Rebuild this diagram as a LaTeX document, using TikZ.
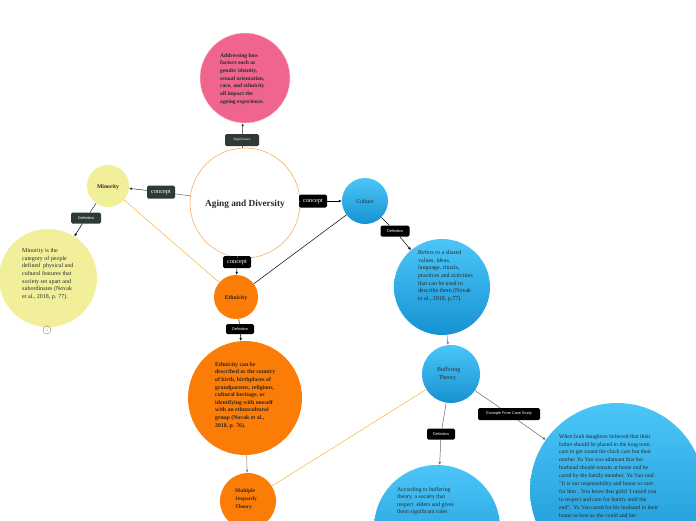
\documentclass[tikz,border=0pt]{standalone}
\usepackage{fontspec}
\setmainfont{Liberation Serif}
\newfontfamily\lblfont{Liberation Sans}
\usetikzlibrary{arrows.meta}
\definecolor{pinkc}{HTML}{EF6590}
\definecolor{yel}{HTML}{F2EF9A}
\definecolor{orng}{HTML}{FB7C07}
\definecolor{blueT}{HTML}{4CC6F8}
\definecolor{blueB}{HTML}{1692D2}
\definecolor{dkgray}{HTML}{2F3A34}
\definecolor{ring}{HTML}{F7A14C}
\definecolor{yline}{HTML}{F7B731}
\definecolor{txt}{HTML}{2A2A2A}
\tikzset{
  bub/.style={circle, inner sep=0pt, minimum size=#1},
  pinkbub/.style={bub=#1, fill=pinkc, draw=orange!30, line width=0.4pt},
  yelbub/.style={bub=#1, fill=yel},
  orbub/.style={bub=#1, fill=orng},
  bluebub/.style={bub=#1, top color=blueT, bottom color=blueB},
  lblbox/.style={rounded corners=1.5pt, fill=black, text=white, inner sep=0pt, minimum height=11pt},
  graybox/.style={lblbox, fill=dkgray},
  para/.style={align=left, inner sep=0pt, text=txt, font=\fontsize{6}{7.7}\selectfont},
  arr/.style={-{Latex[length=3pt,width=2.6pt]}},
  con/.style={line width=0.5pt},
}
\begin{document}
\begin{tikzpicture}[x=1pt,y=-1pt]
\clip (0,0) rectangle (696,520);
\fill[white] (0,0) rectangle (696,520);

% circles
\node[pinkbub=90pt] (pink) at (245,78) {};
\node[bub=110pt, fill=white, draw=ring, line width=0.5pt] (center) at (245,203) {};
\node[yelbub=42pt] (minority) at (108,186) {};
\node[yelbub=98pt] (mindef) at (48,278) {};
\node[bub=8pt, fill=white, draw=gray, line width=0.4pt] (three) at (47,330) {};
\node[bluebub=46pt] (culture) at (365,201) {};
\node[bluebub=96pt] (culdef) at (442,287) {};
\node[orbub=44pt] (ethnicity) at (236,297) {};
\node[orbub=114pt] (ethdef) at (245,398) {};
\node[orbub=56pt] (mjt) at (248,501) {};
\node[bluebub=58pt] (buffer) at (451,374) {};
\node[bluebub=174pt] (example) at (617,490) {};
\node[bluebub=126pt] (bufdef) at (437,528) {};

% labels
\node[graybox, minimum width=34pt, minimum height=12pt, font=\fontsize{3.5}{4}\selectfont] (sig) at (242,140) {Significance};
\node[graybox, minimum width=28pt, minimum height=13pt, font=\fontsize{6.3}{7}\selectfont] (concL) at (161,192) {concept};
\node[graybox, minimum width=30pt, minimum height=11pt, font=\lblfont\fontsize{3.8}{4}\selectfont] (defMin) at (86,218) {Definition};
\node[lblbox, minimum width=28pt, minimum height=13pt, font=\fontsize{6.3}{7}\selectfont] (concR) at (313,201) {concept};
\node[lblbox, minimum width=29pt, minimum height=11pt, font=\lblfont\fontsize{3.8}{4}\selectfont] (defCul) at (395,231) {Definition};
\node[lblbox, minimum width=28pt, minimum height=12pt, font=\fontsize{6.3}{7}\selectfont] (concB) at (237,262) {concept};
\node[lblbox, minimum width=28pt, minimum height=10pt, font=\lblfont\fontsize{3.8}{4}\selectfont] (defEth) at (240,329) {Definition};
\node[lblbox, minimum width=62pt, minimum height=12pt, font=\lblfont\fontsize{3.8}{4}\selectfont] (exlbl) at (509,414) {Example From Case Study};
\node[lblbox, minimum width=28pt, minimum height=11pt, font=\lblfont\fontsize{3.8}{4}\selectfont] (defBuf) at (441,434) {Definition};

% connectors
\draw[con, dkgray] (center) -- (sig);
\draw[con, dkgray, arr] (sig) -- (pink);
\draw[con, gray!80!black] (center) -- (concL);
\draw[con, dkgray, arr] (concL) -- (minority);
\draw[con, dkgray] (minority) -- (defMin);
\draw[con, black, arr] (defMin) -- (mindef);
\draw[con, gray] (mindef) -- (three);
\draw[con, gray!70] (center) -- (concR);
\draw[con, black, arr] (concR) -- (culture);
\draw[con, black] (culture) -- (defCul);
\draw[con, black, arr] (defCul) -- (culdef);
\draw[con, gray, arr] (culdef) -- (buffer);
\draw[con, gray] (center) -- (concB);
\draw[con, black, arr] (concB) -- (ethnicity);
\draw[con, black] (ethnicity) -- (defEth);
\draw[con, black, arr] (defEth) -- (ethdef);
\draw[con, gray, arr] (ethdef) -- (mjt);
\draw[con, yline] (minority) -- (ethnicity);
\draw[con, black] (culture) -- (ethnicity);
\draw[con, yline] (mjt) -- (buffer);
\draw[con, gray!80!black] (buffer) -- (exlbl);
\draw[con, gray!80!black, arr] (exlbl) -- (example);
\draw[con, gray!80!black] (buffer) -- (defBuf);
\draw[con, gray!80!black, arr] (defBuf) -- (bufdef);

% texts
\node[para, font=\bfseries\fontsize{5.6}{7.7}\selectfont, anchor=north west] (pinkt) at (220,53) {Addressing how\\factors such as\\gender identity,\\sexual orientation,\\race, and ethnicity\\all impact the\\ageing experience.};
\node[inner sep=0pt, text=txt, font=\bfseries\fontsize{9.3}{10}\selectfont] (centert) at (245,204) {Aging and Diversity};
\node[inner sep=0pt, text=txt, font=\bfseries\fontsize{5.7}{6}\selectfont] (minorityt) at (108,187) {Minority};
\node[para, anchor=north west] (mindeft) at (22,248) {Minority is the\\category of people\\defined\ \ physical and\\cultural features that\\society set apart and\\subordinates (Novak\\et al., 2018, p. 77).};
\node[inner sep=0pt, text=gray, font=\fontsize{3.5}{4}\selectfont] (threet) at (47,330) {3};
\node[inner sep=0pt, text=txt, font=\fontsize{5.8}{6}\selectfont] (culturet) at (365,202) {Culture};
\node[para, anchor=north west] (culdeft) at (418,250) {Refers to a shared\\values, ideas,\\language, rituals,\\practices and activities\\that can be used to\\describe them (Novak\\et al., 2018, p.77).};
\node[inner sep=0pt, text=txt, font=\bfseries\fontsize{5.7}{6}\selectfont] (ethnicityt) at (236,298) {Ethnicity};
\node[para, font=\bfseries\fontsize{5.8}{7.6}\selectfont, anchor=north west] (ethdeft) at (215,362) {Ethnicity can be\\described as the country\\of birth, birthplaces of\\grandparents, religions,\\cultural heritage, or\\identifying with oneself\\with an ethnocultural\\group (Novak et al.,\\2018, p. 76).};
\node[para, font=\bfseries\fontsize{5.4}{8}\selectfont, anchor=north west] (mjtt) at (235,489) {Multiple\\Jeopardy\\Theory};
\node[para, font=\fontsize{6}{8}\selectfont, anchor=north west] (buffert) at (437,367) {Buffering\\\ Theory};
\node[para, font=\fontsize{5.7}{7.9}\selectfont, anchor=north west] (examplet) at (559,434) {When both daughters believed that their\\father should be placed in the long term\\care to get round the clock care but their\\mother Yu Yan was adamant that her\\husband should remain at home and be\\cared by the family member. Yu Yan said\\"It is our responsibility and honor to care\\for him . You know that girls! I raised you\\to respect and care for family until the\\end". Yu Yan cared for his husband in their\\home as best as she could and her};
\node[para, font=\fontsize{5.8}{7.5}\selectfont, anchor=north west] (bufdeft) at (397,487) {According to buffering\\theory, a society that\\respect\ \ elders and gives\\them significant roles};
\end{tikzpicture}
\end{document}
